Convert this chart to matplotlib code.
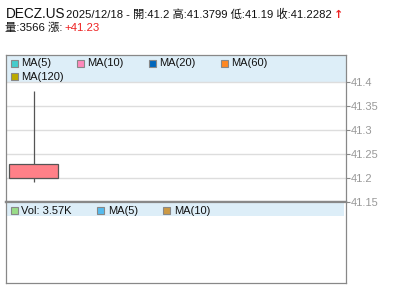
import matplotlib
matplotlib.use("Agg")
import matplotlib.pyplot as plt
from matplotlib.patches import Rectangle

plt.rcParams['font.family'] = ['Liberation Sans', 'Noto Sans CJK TC', 'DejaVu Sans']

# data
symbol = "DECZ.US"
dates = ["2025/12/18"]
opens = [41.2]
highs = [41.3799]
lows = [41.19]
closes = [41.2282]
volumes = [3566]
change = 41.23

price_ticks = [41.15, 41.2, 41.25, 41.3, 41.35, 41.4]
ma_labels = ["MA(5)", "MA(10)", "MA(20)", "MA(60)", "MA(120)"]
ma_colors = ["#44CCCC", "#FF88BB", "#0066BB", "#FF8822", "#BBAA00"]
vol_labels = ["Vol: %.2fK" % (volumes[-1] / 1000), "MA(5)", "MA(10)"]
vol_colors = ["#99DD88", "#55BBEE", "#CC9944"]

W, H = 400, 301
fig = plt.figure(figsize=(W / 100, H / 100), dpi=100)

def px_axes(x0, y0, x1, y1):
    return fig.add_axes([x0 / W, 1 - y1 / H, (x1 - x0) / W, (y1 - y0) / H])

grey = "#888888"
band = "#DDEEF8"

ax = px_axes(5.5, 54.5, 345.5, 201.5)
axv = px_axes(5.5, 201.5, 345.5, 282.5)

# price panel
ymin, ymax = 41.15, 41.457
ax.set_ylim(ymin, ymax)
ax.set_xlim(-0.5, 5.57)
ax.axhspan(41.4, ymax, color=band, zorder=0, lw=0)
for t in price_ticks[1:]:
    ax.axhline(t, color="#DDDDDD", lw=1, zorder=1)

for i in range(len(opens)):
    c = "#FF8088" if closes[i] >= opens[i] else "#55BB55"
    ax.vlines(i, lows[i], highs[i], color="#555555", lw=0.9, zorder=2)
    lo, hi = min(opens[i], closes[i]), max(opens[i], closes[i])
    ax.add_patch(Rectangle((i - 0.445, lo), 0.89, hi - lo, facecolor=c,
                           edgecolor="#555555", lw=0.9, zorder=3))

ax.yaxis.tick_right()
ax.set_yticks(price_ticks)
ax.set_yticklabels([f"{t:g}" for t in price_ticks])
ax.tick_params(axis="y", colors=grey, labelcolor="#999999", length=3, width=0.8,
               labelsize=8, pad=0.5)
ax.set_xticks([])
for s in ax.spines.values():
    s.set_color(grey)
    s.set_linewidth(0.9)
ax.spines["bottom"].set_linewidth(1.6)

# legend squares for MA lines
leg_x = [10.7, 77, 148.7, 220.7, 10.7]
leg_y = [63.3, 63.3, 63.3, 63.3, 76.7]
for lab, col, x, y in zip(ma_labels, ma_colors, leg_x, leg_y):
    fig.patches.append(Rectangle((x / W, 1 - (y + 3.5) / H), 7 / W, 7 / H,
                                 facecolor=col, edgecolor=grey, lw=0.8,
                                 transform=fig.transFigure, figure=fig))
    fig.text((x + 10.5) / W, 1 - y / H, lab, fontsize=8, va="center",
             ha="left", color="#111111")

# volume panel
axv.set_xlim(-0.5, 5.57)
axv.set_ylim(0, 1)
axv.axhspan(0.82, 1.0, xmax=0.997, color=band, lw=0, zorder=0)
axv.set_xticks([])
axv.set_yticks([])
for s in axv.spines.values():
    s.set_color(grey)
    s.set_linewidth(0.9)
axv.spines["top"].set_linewidth(1.6)

vleg_x = [10.7, 97.3, 163.3]
for lab, col, x in zip(vol_labels, vol_colors, vleg_x):
    y = 210.7
    fig.patches.append(Rectangle((x / W, 1 - (y + 3.5) / H), 7 / W, 7 / H,
                                 facecolor=col, edgecolor=grey, lw=0.8,
                                 transform=fig.transFigure, figure=fig))
    fig.text((x + 10.5) / W, 1 - y / H, lab, fontsize=8, va="center",
             ha="left", color="#111111")

# header
fig.text(6 / W, 1 - 17.5 / H, symbol, fontsize=9.8, va="baseline", color="#111111")
info = (f"{dates[-1]} - 開:{opens[-1]:g} 高:{highs[-1]:g} "
        f"低:{lows[-1]:g} 收:{closes[-1]:g}")
fig.text(66.5 / W, 1 - 17.5 / H, info, fontsize=8.15, va="baseline", color="#111111")
fig.text(334 / W, 1 - 18.5 / H, "↑", fontsize=8, va="baseline", color="#EE2222",
         fontweight="bold", family=["DejaVu Sans"])
fig.text(5 / W, 1 - 31 / H, f"量:{volumes[-1]} 漲:", fontsize=8.2,
         va="baseline", color="#111111")
fig.text(64.5 / W, 1 - 31 / H, f"+{change:g}", fontsize=8.2, va="baseline",
         color="#EE2222")

fig.savefig("out.png", dpi=100)
